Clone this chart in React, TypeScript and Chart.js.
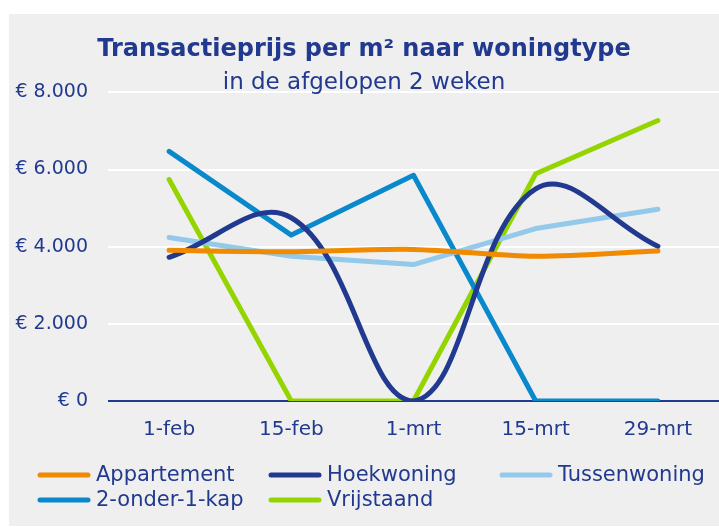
import React, { useEffect, useRef } from "react";
import { Chart, registerables } from "chart.js";

Chart.register(...registerables);

const categories = ["1-feb", "15-feb", "1-mrt", "15-mrt", "29-mrt"];
const appartement = [3905, 3870, 3930, 3750, 3890];
const hoekwoning = [3725, 4750, 0, 5500, 4010];
const tussenwoning = [4240, 3750, 3535, 4470, 4970];
const tweeOnderEenKap = [6470, 4300, 5850, 0, 0];
const vrijstaand = [5740, 0, 0, 5890, 7270];
const yTicks = [0, 2000, 4000, 6000, 8000];

const NAVY = "#213a8f";
const FONT = "'DejaVu Sans', sans-serif";

const gridLegend = {
  id: "gridLegend",
  afterDraw(chart: any) {
    const ctx = chart.ctx;
    const cols = [31, 262, 493];
    const rows = [461, 486];
    const lineLen = 48;
    ctx.save();
    ctx.font = `21px ${FONT}`;
    ctx.textBaseline = "middle";
    ctx.textAlign = "left";
    chart.data.datasets.forEach((ds: any, i: number) => {
      const x = cols[i % 3];
      const y = rows[Math.floor(i / 3)];
      ctx.strokeStyle = ds.borderColor;
      ctx.lineWidth = 5;
      ctx.lineCap = "round";
      ctx.beginPath();
      ctx.moveTo(x, y);
      ctx.lineTo(x + lineLen, y);
      ctx.stroke();
      ctx.fillStyle = NAVY;
      ctx.fillText(ds.label, x + lineLen + 8, y + 1);
    });
    ctx.restore();
  },
};

export default function App() {
  const ref = useRef<HTMLCanvasElement | null>(null);
  useEffect(() => {
    if (!ref.current) return;
    const mk = (label: string, data: number[], color: string, tension: number) => ({
      label,
      data,
      borderColor: color,
      backgroundColor: color,
      borderWidth: 5,
      borderCapStyle: "round" as const,
      borderJoinStyle: "round" as const,
      pointRadius: 0,
      pointHoverRadius: 0,
      tension,
      fill: false,
    });
    const chart = new Chart(ref.current, {
      type: "line",
      data: {
        labels: categories,
        datasets: [
          mk("Appartement", appartement, "#f08a00", 0.3),
          mk("Hoekwoning", hoekwoning, "#213a8f", 0.4),
          mk("Tussenwoning", tussenwoning, "#93c9ea", 0),
          mk("2-onder-1-kap", tweeOnderEenKap, "#0a88cc", 0),
          mk("Vrijstaand", vrijstaand, "#94d500", 0),
        ],
      },
      plugins: [gridLegend],
      options: {
        animation: false,
        responsive: false,
        maintainAspectRatio: false,
        layout: { padding: { left: 0, right: 0, top: 0, bottom: 84 } },
        plugins: {
          title: {
            display: true,
            text: "Transactieprijs per m² naar woningtype",
            color: NAVY,
            font: { family: FONT, size: 24, weight: "bold", lineHeight: 1.2 },
            padding: { top: 21, bottom: 9 },
          },
          subtitle: {
            display: true,
            text: "in de afgelopen 2 weken",
            color: NAVY,
            font: { family: FONT, size: 23, weight: "normal", lineHeight: 0.85 },
            padding: { top: 0, bottom: 0 },
          },
          legend: { display: false },
          tooltip: { enabled: false },
        },
        scales: {
          x: {
            offset: true,
            grid: { display: false, drawTicks: false },
            border: { display: false },
            ticks: { color: NAVY, font: { family: FONT, size: 20 }, padding: 17, maxRotation: 0 },
            afterFit: (axis: any) => {
              axis.height = 41;
            },
          },
          y: {
            min: 0,
            max: 8000,
            afterBuildTicks: (axis: any) => {
              axis.ticks = yTicks.map((v) => ({ value: v }));
            },
            afterFit: (axis: any) => {
              axis.width = 99;
            },
            border: { display: false },
            grid: {
              color: (ctx: any) => (ctx.tick && ctx.tick.value === 0 ? NAVY : "#ffffff"),
              lineWidth: 2,
              drawTicks: false,
            },
            ticks: {
              color: NAVY,
              padding: 20,
              font: { family: FONT, size: 19 },
              callback: (v: any) => "€ " + Number(v).toLocaleString("nl-NL"),
            },
          },
        },
      },
    });
    return () => chart.destroy();
  }, []);
  return (
    <div
      style={{
        position: "absolute",
        left: 9,
        top: 14,
        width: 710,
        height: 512,
        background: "#efefef",
      }}
    >
      <canvas ref={ref} width={710} height={512} style={{ display: "block" }} />
    </div>
  );
}
